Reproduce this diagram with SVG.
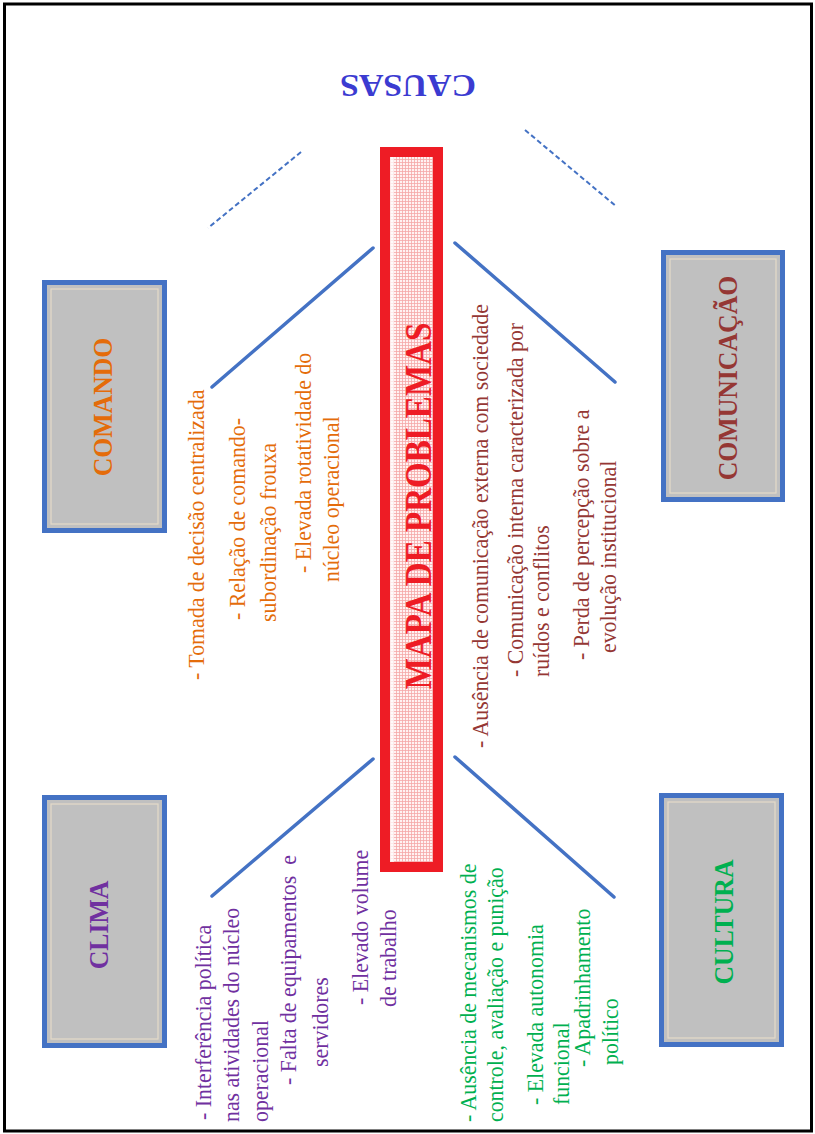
<svg xmlns="http://www.w3.org/2000/svg" width="815" height="1134" viewBox="0 0 815 1134">
<style>
.box{fill:#c0c0c0;stroke:#4472c4;stroke-width:5}
.inner{fill:none;stroke:#e4dac8;stroke-width:1.2}
.title{font-family:"Liberation Serif","Times New Roman",serif;font-weight:bold;font-size:28px;text-anchor:middle}
.item{font-family:"Liberation Serif","Times New Roman",serif;font-size:23px}
.conn{stroke:#4472c4;stroke-width:3.5;fill:none;stroke-linecap:round}
.dash{stroke:#4472c4;stroke-width:2;stroke-dasharray:5 3;fill:none}
.or{fill:#e46c0a}.dr{fill:#953734}.pu{fill:#7030a0}.gr{fill:#00b050}
</style>
<defs>
<pattern id="grid" width="3" height="3" patternUnits="userSpaceOnUse">
<rect width="3" height="3" fill="#fff2f2"/>
<path d="M0 0.5H3M0.5 0V3" stroke="#f5a8a8" stroke-width="0.8"/>
</pattern>
</defs>
<rect x="4.5" y="4" width="807" height="1127" fill="#ffffff" stroke="#000000" stroke-width="3"/>

<g id="causas-label">
<text transform="translate(408,75) rotate(180)" text-anchor="middle" font-family="'Liberation Serif','Times New Roman',serif" font-weight="bold" font-size="32" fill="#3b3bd1" textLength="136" lengthAdjust="spacingAndGlyphs">CAUSAS</text>
</g>

<g id="connectors">
<line class="dash" x1="301" y1="152" x2="208" y2="228"/>
<line class="dash" x1="525" y1="130" x2="617" y2="207"/>
<line class="conn" x1="373" y1="248" x2="212" y2="387"/>
<line class="conn" x1="455" y1="243" x2="615" y2="382"/>
<line class="conn" x1="373" y1="759" x2="212" y2="896"/>
<line class="conn" x1="455" y1="757" x2="614" y2="897"/>
</g>

<g id="node-mapa">
<rect x="385" y="152" width="53" height="715" fill="url(#grid)" stroke="#ee1c25" stroke-width="10"/>
<rect x="390" y="157" width="4" height="705" fill="#ffffff" opacity="0.7"/>
<text transform="translate(431,506) rotate(-90) scale(0.87,1)" text-anchor="middle" font-family="'Liberation Serif','Times New Roman',serif" font-weight="bold" font-size="38" fill="#ee1c25">MAPA DE PROBLEMAS</text>
</g>

<g id="node-comando">
<rect class="box" x="44.5" y="282.5" width="120" height="248"/>
<rect class="inner" x="51" y="289" width="107" height="235"/>
<text class="title or" transform="translate(112,407) rotate(-90) scale(0.92,1)">COMANDO</text>
</g>

<g id="node-comunicacao">
<rect class="box" x="663.5" y="252.5" width="119" height="247"/>
<rect class="inner" x="670" y="259" width="106" height="234"/>
<text class="title dr" transform="translate(737,378) rotate(-90) scale(0.92,1)">COMUNICAÇÃO</text>
</g>

<g id="node-clima">
<rect class="box" x="44.5" y="797.5" width="120" height="248"/>
<rect class="inner" x="51" y="804" width="107" height="235"/>
<text class="title pu" transform="translate(108,925) rotate(-90) scale(0.92,1)">CLIMA</text>
</g>

<g id="node-cultura">
<rect class="box" x="661.5" y="795.5" width="120" height="249"/>
<rect class="inner" x="668" y="802" width="107" height="236"/>
<text class="title gr" transform="translate(733,922) rotate(-90) scale(0.92,1)">CULTURA</text>
</g>

<g id="causes-comando" class="item or">
<text transform="translate(204,680) rotate(-90) scale(0.95,1)">- Tomada de decisão centralizada</text>
<text transform="translate(245,620) rotate(-90) scale(0.95,1)">- Relação de comando-</text>
<text transform="translate(276,622) rotate(-90) scale(0.95,1)">subordinação frouxa</text>
<text transform="translate(311,573) rotate(-90) scale(0.95,1)">- Elevada rotatividade do</text>
<text transform="translate(339,582) rotate(-90) scale(0.95,1)">núcleo operacional</text>
</g>

<g id="causes-comunicacao" class="item dr">
<text transform="translate(488,748) rotate(-90) scale(0.95,1)">- Ausência de comunicação externa com sociedade</text>
<text transform="translate(523,677) rotate(-90) scale(0.95,1)">- Comunicação interna caracterizada por</text>
<text transform="translate(549,677) rotate(-90) scale(0.95,1)">ruídos e conflitos</text>
<text transform="translate(589,660) rotate(-90) scale(0.95,1)">- Perda de percepção sobre a</text>
<text transform="translate(616,653) rotate(-90) scale(0.95,1)">evolução institucional</text>
</g>

<g id="causes-clima" class="item pu">
<text transform="translate(211,1120) rotate(-90) scale(0.95,1)">- Interferência política</text>
<text transform="translate(239,1122) rotate(-90) scale(0.95,1)">nas atividades do núcleo</text>
<text transform="translate(268,1122) rotate(-90) scale(0.95,1)">operacional</text>
<text transform="translate(296,1085) rotate(-90) scale(0.95,1)" xml:space="preserve">- Falta de equipamentos  e</text>
<text transform="translate(328,1067) rotate(-90) scale(0.95,1)">servidores</text>
<text transform="translate(368,1005) rotate(-90) scale(0.95,1)">- Elevado volume</text>
<text transform="translate(396,1007) rotate(-90) scale(0.95,1)">de trabalho</text>
</g>

<g id="causes-cultura" class="item gr">
<text transform="translate(476,1122) rotate(-90) scale(0.95,1)">- Ausência de mecanismos de</text>
<text transform="translate(503,1122) rotate(-90) scale(0.95,1)">controle, avaliação e punição</text>
<text transform="translate(543,1105) rotate(-90) scale(0.95,1)">- Elevada autonomia</text>
<text transform="translate(569,1105) rotate(-90) scale(0.95,1)">funcional</text>
<text transform="translate(590,1067) rotate(-90) scale(0.95,1)">- Apadrinhamento</text>
<text transform="translate(618,1065) rotate(-90) scale(0.95,1)">político</text>
</g>
</svg>
